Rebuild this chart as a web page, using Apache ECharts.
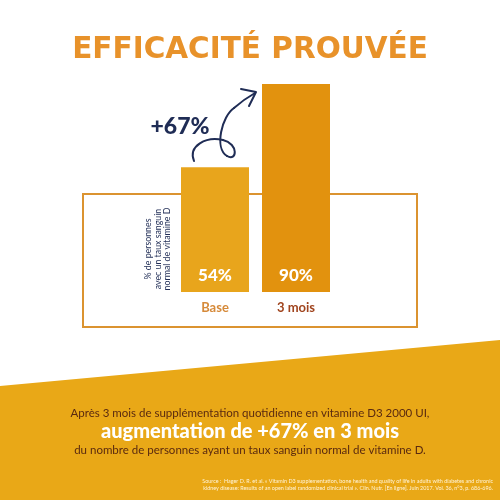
<!DOCTYPE html>
<html>
<head>
<meta charset="utf-8">
<script src="https://cdn.jsdelivr.net/npm/echarts@6/dist/echarts.min.js"></script>
<style>html,body{margin:0;padding:0;background:#fff}#c{width:500px;height:500px}</style>
</head>
<body>
<div id="c"></div>
<script>
var categories = ['Base', '3 mois'];
var values = [54, 90];
var categoryColors = ['#D68A3A', '#A0441E'];
var barColors = ['#E8A51C', '#E2920E'];
var titleText = 'EFFICACITÉ PROUVÉE';
var gainText = '+67%';
var axisNameLines = ['% de personnes', 'avec un taux sanguin', 'normal de vitamine D'];
var bottomLine1 = 'Après 3 mois de supplémentation quotidienne en vitamine D3 2000 UI,';
var bottomLine2 = 'augmentation de +67% en 3 mois';
var bottomLine3 = 'du nombre de personnes ayant un taux sanguin normal de vitamine D.';
var sourceLines = [
  'Source :  Hager D. R. et al. « Vitamin D3 supplementation, bone health and quality of life in adults with diabetes and chronic',
  'kidney disease: Results of an open label randomized clinical trial ». Clin. Nutr. [En ligne]. Juin 2017. Vol. 36, n°3, p. 686-696.'
];

var chart = echarts.init(document.getElementById('c'), null, {renderer: 'canvas'});
var navy = '#1F2C55';
var font = 'Lato, "DejaVu Sans", sans-serif';
var arrowStyle = {fill: null, stroke: navy, lineWidth: 2, lineCap: 'round'};
function curve(x1, y1, c1x, c1y, c2x, c2y, x2, y2) {
  return {type: 'bezierCurve', z: 3,
    shape: {x1: x1, y1: y1, cpx1: c1x, cpy1: c1y, cpx2: c2x, cpy2: c2y, x2: x2, y2: y2},
    style: arrowStyle};
}

chart.setOption({
  backgroundColor: '#ffffff',
  animation: false,
  grid: {left: 174.5, right: 163.5, top: 84, bottom: 208},
  xAxis: {
    type: 'category',
    data: categories.map(function (c, i) { return {value: c, textStyle: {color: categoryColors[i]}}; }),
    axisLine: {show: false}, axisTick: {show: false},
    axisLabel: {fontFamily: font, fontWeight: 'bold', fontSize: 13, margin: 9}
  },
  yAxis: {type: 'value', min: 0, max: 90, show: false},
  series: [{
    type: 'bar',
    barWidth: 68,
    z: 5,
    data: values.map(function (v, i) { return {value: v, itemStyle: {color: barColors[i]}}; }),
    label: {
      show: true, position: 'insideBottom', distance: 8,
      formatter: '{c}%', color: '#fff', fontFamily: font, fontWeight: 900, fontSize: 17
    }
  }],
  graphic: [
    {type: 'rect', z: 1, shape: {x: 83, y: 194, width: 334, height: 133},
     style: {fill: null, stroke: '#DB9330', lineWidth: 2}},
    {type: 'polygon', z: 1, shape: {points: [[0, 386], [500, 340], [500, 500], [0, 500]]},
     style: {fill: '#E9A817'}},
    {type: 'text', z: 3, x: 250, y: 50,
     style: {text: titleText, fill: '#E8922A', font: '900 29.5px "DejaVu Sans", sans-serif', textAlign: 'center', textVerticalAlign: 'middle'}},
    {type: 'text', z: 3, x: 180, y: 127,
     style: {text: gainText, fill: navy, font: '900 23px ' + font, textAlign: 'center', textVerticalAlign: 'middle'}},
    curve(194, 161, 188, 146, 206, 136, 223, 140),
    curve(223, 140, 239, 144, 237, 162, 227, 156),
    curve(227, 156, 214, 148, 222, 116, 234, 108),
    curve(234, 108, 242, 101, 248, 97, 255, 93),
    {type: 'polyline', z: 3, shape: {points: [[241, 89], [256, 92], [249, 106]]},
     style: {fill: null, stroke: navy, lineWidth: 2, lineCap: 'round', lineJoin: 'round'}},
    {type: 'text', z: 3, x: 158, y: 249, rotation: Math.PI / 2,
     style: {text: axisNameLines.join('\n'), fill: navy, font: '8.8px ' + font, lineHeight: 9.5, textAlign: 'center', textVerticalAlign: 'middle'}},
    {type: 'text', z: 3, x: 250, y: 413,
     style: {text: bottomLine1, fill: '#5A2A10', font: '11.5px ' + font, textAlign: 'center', textVerticalAlign: 'middle'}},
    {type: 'text', z: 3, x: 250, y: 432,
     style: {text: bottomLine2, fill: '#ffffff', font: '900 20px ' + font, textAlign: 'center', textVerticalAlign: 'middle'}},
    {type: 'text', z: 3, x: 250, y: 450,
     style: {text: bottomLine3, fill: '#5A2A10', font: '11.5px ' + font, textAlign: 'center', textVerticalAlign: 'middle'}},
    {type: 'text', z: 3, x: 493, y: 485,
     style: {text: sourceLines.join('\n'), fill: '#FFF3D6', font: '5.4px ' + font, lineHeight: 7, textAlign: 'right', textVerticalAlign: 'middle'}}
  ]
});
</script>
</body>
</html>
